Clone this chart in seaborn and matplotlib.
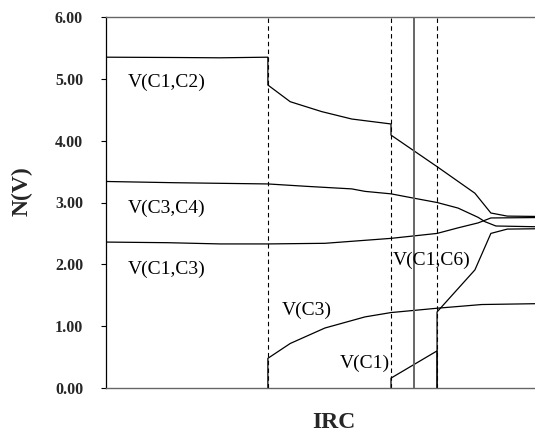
import pandas as pd
import matplotlib.pyplot as plt
import seaborn as sns

# ---------------------------------------------
# Data (IRC in arbitrary units, N(V) in electrons)
# ---------------------------------------------
irc_c1c2 = [0, 15, 25, 35.5, 35.5, 40.4, 47.3, 53.9, 62.5, 62.5, 72.6, 80.9, 84.4, 88, 100]
n_c1c2 = [5.35, 5.345, 5.34, 5.35, 4.90, 4.63, 4.47, 4.35, 4.27, 4.09, 3.58, 3.15, 2.83, 2.78, 2.77]

irc_c3c4 = [0, 15, 35.5, 44.3, 53.9, 56.8, 62.5, 67.5, 72.6, 77.2, 81.6, 83.1, 85.5, 100]
n_c3c4 = [3.34, 3.32, 3.30, 3.26, 3.22, 3.18, 3.14, 3.07, 3.00, 2.91, 2.76, 2.69, 2.62, 2.60]

irc_c1c3 = [0, 13.5, 25, 35.5, 48, 62.5, 72.6, 77.2, 81.6, 84.4, 100]
n_c1c3 = [2.36, 2.35, 2.33, 2.33, 2.34, 2.42, 2.50, 2.59, 2.67, 2.75, 2.76]

irc_c3 = [35.5, 35.5, 40.4, 48, 56.8, 62.5, 72.6, 82.4, 100]
n_c3 = [0, 0.48, 0.72, 0.97, 1.15, 1.22, 1.29, 1.35, 1.37]

irc_c1 = [62.5, 62.5, 72.6, 72.6]
n_c1 = [0, 0.16, 0.60, 0]

irc_c1c6 = [72.6, 72.6, 80.9, 83.1, 84.4, 88, 100]
n_c1c6 = [0, 1.23, 1.91, 2.28, 2.50, 2.57, 2.58]

series = {
    'V(C1,C2)': (irc_c1c2, n_c1c2),
    'V(C3,C4)': (irc_c3c4, n_c3c4),
    'V(C1,C3)': (irc_c1c3, n_c1c3),
    'V(C3)': (irc_c3, n_c3),
    'V(C1)': (irc_c1, n_c1),
    'V(C1,C6)': (irc_c1c6, n_c1c6),
}

# label positions (IRC, N(V))
label_pos = {
    'V(C1,C2)': (4.8, 4.95),
    'V(C3,C4)': (4.8, 2.91),
    'V(C1,C3)': (4.8, 1.92),
    'V(C3)': (38.5, 1.26),
    'V(C1)': (51.3, 0.40),
    'V(C1,C6)': (63.0, 2.07),
}

dashed_irc = [35.5, 62.5, 72.6]
ts_irc = 67.5

# ---------------------------------------------
# Plot
# ---------------------------------------------
sns.set_style('white')
plt.rcParams['font.family'] = ['Liberation Serif', 'DejaVu Serif']

fig = plt.figure(figsize=(5.35, 4.32), dpi=100)
ax = fig.add_axes([106 / 535, 1 - 388 / 432, 456 / 535, 371 / 432])

for name, (x, y) in series.items():
    df = pd.DataFrame({'IRC': x, 'N(V)': y})
    sns.lineplot(data=df, x='IRC', y='N(V)', sort=False, estimator=None,
                 color='black', linewidth=0.9, ax=ax)

for xv in dashed_irc:
    ax.axvline(xv, color='black', linewidth=0.8, linestyle=(0, (4, 3)))
ax.axvline(ts_irc, color='#666666', linewidth=1.4)

for name, (lx, ly) in label_pos.items():
    ax.text(lx, ly, name, fontsize=14, ha='left', va='center', color='black')

ax.set_xlim(0, 100)
ax.set_ylim(0, 6)
ax.set_yticks([0, 1, 2, 3, 4, 5, 6])
ax.set_yticklabels([f'{v:.2f}' for v in [0, 1, 2, 3, 4, 5, 6]],
                   fontsize=11.5, fontweight='bold')
ax.set_xticks([])
ax.tick_params(axis='y', direction='out', length=3.5, width=0.8, pad=13,
               left=True, color='black')

ax.set_xlabel('IRC', fontsize=17, fontweight='bold')
ax.set_ylabel('N(V)', fontsize=17, fontweight='bold')
ax.xaxis.set_label_coords(0.5, -0.064)
ax.yaxis.set_label_coords(-0.16, 0.53)

ax.spines['left'].set_color('black')
ax.spines['left'].set_linewidth(0.9)
for s in ['top', 'bottom']:
    ax.spines[s].set_color('#666666')
    ax.spines[s].set_linewidth(1.0)
ax.spines['right'].set_visible(False)

fig.savefig('out.png', dpi=100)
